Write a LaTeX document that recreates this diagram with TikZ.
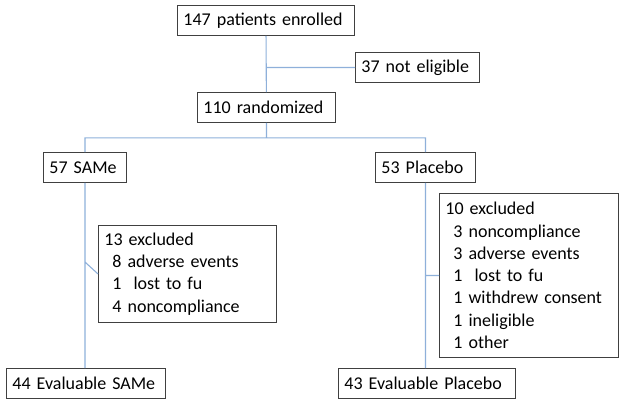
\documentclass[tikz,border=0pt]{standalone}
\usepackage{fontspec}
\setmainfont{Carlito}
\usepackage{xcolor}
\usetikzlibrary{positioning}
\definecolor{linkblue}{HTML}{8EB0DA}
\definecolor{boxgray}{HTML}{404040}

\begin{document}
\begin{tikzpicture}[x=1pt,y=-1pt,
  font=\fontsize{18}{22.3}\selectfont,
  box/.style = {draw=boxgray,line width=0.9pt,anchor=north west,
        minimum height=30pt,inner xsep=6pt,inner ysep=0pt,align=left},
  excl/.style = {box,inner ysep=4pt},
  link/.style = {draw=linkblue,line width=1.1pt}]
 \useasboundingbox (0,0) rectangle (624,405);
 \node[box,text width=165pt] (enrolled) at (177,5) {147 patients enrolled};
 \node[box,text width=112pt] (noteligible) at (355,52) {37 not eligible};
 \node[box,text width=126pt] (randomized) at (197,92) {110 randomized};
 \node[box,text width=71pt] (same) at (43,152) {57 SAMe};
 \node[box,text width=88pt] (placebo) at (375,152) {53 Placebo};
 \node[excl,text width=166pt,minimum height=97pt] (exsame) at (98,225)
   {13 excluded\\
    \hspace*{8pt}8 adverse events\\
    \hspace*{8pt}1\ \ lost to fu\\
    \hspace*{8pt}4 noncompliance};
 \node[excl,text width=167pt,minimum height=164pt] (explacebo) at (439,193)
   {10 excluded\\
    \hspace*{8pt}3 noncompliance\\
    \hspace*{8pt}3 adverse events\\
    \hspace*{8pt}1\ \ lost to fu\\
    \hspace*{8pt}1 withdrew consent\\
    \hspace*{8pt}1 ineligible\\
    \hspace*{8pt}1 other};
 \node[box,text width=147pt] (evalsame) at (6,368) {44 Evaluable SAMe};
 \node[box,text width=165pt] (evalplacebo) at (338,368) {43 Evaluable Placebo};
 \coordinate (split) at ([yshift=-15pt]randomized.south);
 \coordinate (sbranch) at (same.south |- 0,262);
 % connectors
 \path[link] (enrolled) -- (randomized)
  (enrolled.south |- noteligible.west) -- (noteligible.west)
  (randomized.south) -- (split)
  (split) -| (same.north)
  (split) -| (placebo.north)
  (same.south) -- (same.south |- evalsame.north)
  (sbranch) -- (exsame.west)
  (placebo.south) -- (placebo.south |- evalplacebo.north)
  (placebo.south |- explacebo.west) -- (explacebo.west);
\end{tikzpicture}
\end{document}
